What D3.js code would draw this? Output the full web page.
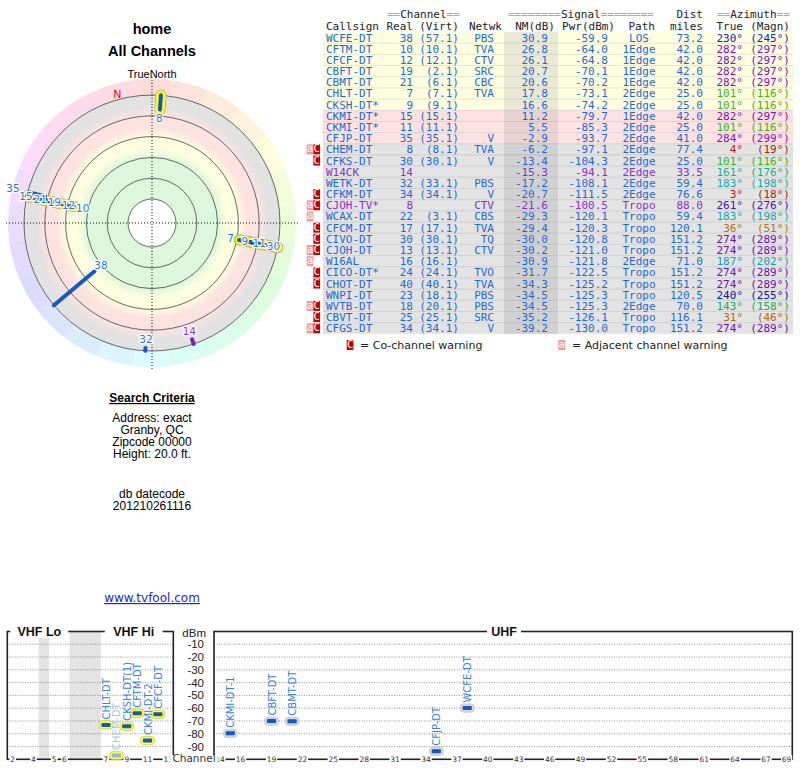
<!DOCTYPE html>
<html>
<head>
<meta charset="utf-8">
<title>home - All Channels</title>
<script src="https://d3js.org/d3.v7.min.js"></script>
<style>
  body { margin: 0; background: #fff; }
</style>
</head>
<body>
<script>
// station table
var callsign = ["WCFE-DT","CFTM-DT","CFCF-DT","CBFT-DT","CBMT-DT","CHLT-DT","CKSH-DT*","CKMI-DT*","CKMI-DT*","CFJP-DT","CHEM-DT","CFKS-DT","W14CK","WETK-DT","CFKM-DT","CJOH-TV*","WCAX-DT","CFCM-DT","CIVO-DT","CJOH-DT","W16AL","CICO-DT*","CHOT-DT","WNPI-DT","WVTB-DT","CBVT-DT","CFGS-DT"];
var realCh = [38,10,12,19,21,7,9,15,11,35,8,30,14,32,34,8,22,17,30,13,16,24,40,23,18,25,34];
var virtCh = ["57.1","10.1","12.1","2.1","6.1","7.1","9.1","15.1","11.1","35.1","8.1","30.1","","33.1","34.1","","3.1","17.1","30.1","13.1","16.1","24.1","40.1","18.1","20.1","25.1","34.1"];
var network = ["PBS","TVA","CTV","SRC","CBC","TVA","","","","V","TVA","V","","PBS","V","CTV","CBS","TVA","TQ","CTV","","TVO","TVA","PBS","PBS","SRC","V"];
var nmDb = [30.9,26.8,26.1,20.7,20.6,17.8,16.6,11.2,5.5,-2.9,-6.2,-13.4,-15.3,-17.2,-20.7,-21.6,-29.3,-29.4,-30.0,-30.2,-30.9,-31.7,-34.3,-34.5,-34.5,-35.2,-39.2];
var pwrDbm = [-59.9,-64.0,-64.8,-70.1,-70.2,-73.1,-74.2,-79.7,-85.3,-93.7,-97.1,-104.3,-94.1,-108.1,-111.5,-100.5,-120.1,-120.3,-120.8,-121.0,-121.8,-122.5,-125.2,-125.3,-125.3,-126.1,-130.0];
var pathType = ["LOS","1Edge","1Edge","1Edge","1Edge","2Edge","2Edge","1Edge","2Edge","2Edge","2Edge","2Edge","2Edge","2Edge","2Edge","Tropo","Tropo","Tropo","Tropo","Tropo","2Edge","Tropo","Tropo","Tropo","2Edge","Tropo","Tropo"];
var distMiles = [73.2,42.0,42.0,42.0,42.0,25.0,25.0,42.0,25.0,41.0,77.4,25.0,33.5,59.4,76.6,88.0,59.4,120.1,151.2,151.2,71.0,151.2,151.2,120.5,70.0,116.1,151.2];
var azTrue = [230,282,282,282,282,101,101,282,101,284,4,101,161,183,3,261,183,36,274,274,187,274,274,240,143,31,274];
var azMagn = [245,297,297,297,297,116,116,297,116,299,19,116,176,198,18,276,198,51,289,289,202,289,289,255,158,46,289];
var warning = ["","","","","","","","","","","aC","C","","","C","aC","a","C","C","aC","a","C","C","","aC","C","aC"];

// names used on the spectrum chart (first rows only)
var spectrumNames = ["WCFE-DT","CFTM-DT","CFCF-DT","CBFT-DT","CBMT-DT","CHLT-DT","CKSH-DT(1)","CKMI-DT-1","CKMI-DT-2","CFJP-DT","CHEM-DT"];

var searchLines = ["Address: exact","Granby, QC","Zipcode 00000","Height: 20.0 ft."];
var dateLines = ["db datecode","201210261116"];

var polarRings = [80,60,40,20,0,-20];       // NM dB circles
var bandEdges = [35,15,-5];                   // NM dB colour bands
var dbmTicks = [-10,-20,-30,-40,-50,-60,-70,-80,-90];
var vhfTicks = [2,4,5,6,7,9,11,13];
var uhfTicks = [14,16,19,22,25,28,31,34,37,40,43,46,49,52,55,58,61,64,67,69];
var vhfGaps = [[4.25,4.75],[6.125,6.875]];

var width = 800, height = 768;
var svg = d3.select("body").append("svg")
    .attr("width", width)
    .attr("height", height);

var sans = "'Liberation Sans', Arial, sans-serif";
var dejavu = "'DejaVu Sans', sans-serif";
var mono = "'DejaVu Sans Mono', monospace";
var blue = "#1f68d4";
var purple = "#8a2fcc";

function isAnalog(i) { return virtCh[i] === ""; }
function azColor(a) { return d3.hsl(a, 0.85, 0.38).toString(); }

// ---------- titles ----------
svg.append("text").attr("x",152).attr("y",34).attr("text-anchor","middle")
    .attr("font-family",sans).attr("font-size",14.5).attr("font-weight","bold").text("home");
svg.append("text").attr("x",152).attr("y",56).attr("text-anchor","middle")
    .attr("font-family",sans).attr("font-size",14.5).attr("font-weight","bold").text("All Channels");

// ---------- polar plot ----------
var cx = 152, cy = 223;
var rScale = d3.scaleLinear().domain([80,-20]).range([24,128]).clamp(true);
var rOuter = rScale(-20);
function rad(a) { return a * Math.PI / 180; }
function pt(az, r) { return [cx + r * Math.sin(rad(az)), cy - r * Math.cos(rad(az))]; }

var polar = svg.append("g");

// hue ring by azimuth
var hueArc = d3.arc().innerRadius(rOuter).outerRadius(rOuter + 16);
polar.selectAll("path.hue").data(d3.range(0,360,15)).join("path")
    .attr("class","hue")
    .attr("transform","translate(" + cx + "," + cy + ")")
    .attr("d", function(d){ return hueArc({startAngle: rad(d-7.5), endAngle: rad(d+7.5)}); })
    .attr("fill", function(d){ return d3.hsl(d, 0.9, 0.925).toString(); });

// signal bands
var bandColors = ["#dcf7dc","#fdfddf","#fde2e2","#e2e2e2"];
var grad = svg.append("defs").append("radialGradient").attr("id","bands")
    .attr("gradientUnits","userSpaceOnUse").attr("cx",cx).attr("cy",cy).attr("r",rOuter);
grad.append("stop").attr("offset",0).attr("stop-color",bandColors[0]);
bandEdges.forEach(function(e, k){
    var r = rScale(e);
    grad.append("stop").attr("offset",(r-5)/rOuter).attr("stop-color",bandColors[k]);
    grad.append("stop").attr("offset",(r+4)/rOuter).attr("stop-color",bandColors[k+1]);
});
grad.append("stop").attr("offset",1).attr("stop-color",bandColors[3]);
polar.append("circle").attr("cx",cx).attr("cy",cy).attr("r",rOuter).attr("fill","url(#bands)");

polar.selectAll("circle.ring").data(polarRings).join("circle")
    .attr("class","ring")
    .attr("cx",cx).attr("cy",cy)
    .attr("r", function(d){ return rScale(d); })
    .attr("fill", function(d,i){ return i === 0 ? "#fff" : "none"; })
    .attr("stroke","#444").attr("stroke-width",0.8);

// cross hair
polar.append("line").attr("x1",cx).attr("x2",cx).attr("y1",cy-146).attr("y2",cy+146)
    .attr("stroke","#111").attr("stroke-dasharray","1,2");
polar.append("line").attr("x1",cx-146).attr("x2",cx+146).attr("y1",cy).attr("y2",cy)
    .attr("stroke","#111").attr("stroke-dasharray","1,2");

svg.append("text").attr("x",cx).attr("y",78).attr("text-anchor","middle")
    .attr("font-family",sans).attr("font-size",11).text("TrueNorth");

// magnetic north marker
var decl = azMagn[0] - azTrue[0];
var np = pt(360 - decl, rOuter + 6);
polar.append("text").attr("x",np[0]).attr("y",np[1]+4).attr("text-anchor","middle")
    .attr("font-family",dejavu).attr("font-size",11).attr("fill","#d02020").text("N");

// stations on polar plot
var pIdx = d3.range(callsign.length).filter(function(i){ return nmDb[i] > -18; });

pIdx.filter(function(i){ return realCh[i] <= 13; }).forEach(function(i){
    var a = pt(azTrue[i], rScale(nmDb[i])), b = pt(azTrue[i], rOuter);
    polar.append("line").attr("x1",a[0]).attr("y1",a[1]).attr("x2",b[0]).attr("y2",b[1])
        .attr("stroke","#b5b55a").attr("stroke-width",11).attr("stroke-linecap","round");
    polar.append("line").attr("x1",a[0]).attr("y1",a[1]).attr("x2",b[0]).attr("y2",b[1])
        .attr("stroke","#ffff28").attr("stroke-width",9.5).attr("stroke-linecap","round");
});
pIdx.forEach(function(i){
    var a = pt(azTrue[i], rScale(nmDb[i])), b = pt(azTrue[i], rOuter);
    polar.append("line").attr("x1",a[0]).attr("y1",a[1]).attr("x2",b[0]).attr("y2",b[1])
        .attr("stroke", isAnalog(i) ? "#7a22c0" : "#1458c4")
        .attr("stroke-width",4).attr("stroke-linecap","round");
});

// labels, pushed outward when they collide on the same bearing
var order = pIdx.slice().sort(function(a,b){
    return d3.ascending(azTrue[a],azTrue[b]) || d3.descending(nmDb[a],nmDb[b]);
});
var prev = null;
order.forEach(function(i){
    var lr = rScale(nmDb[i]) - 8.5;
    if (prev && Math.abs(azTrue[i] - prev.az) <= 3) lr = Math.max(lr, prev.r + 14.5);
    prev = {az: azTrue[i], r: lr};
    var p = pt(azTrue[i], lr);
    polar.append("text").attr("x",p[0]).attr("y",p[1]+3.5).attr("text-anchor","middle")
        .attr("font-family",dejavu).attr("font-size",10.5)
        .attr("fill", isAnalog(i) ? purple : "#2a74dc")
        .attr("stroke","#fff").attr("stroke-width",2.5).attr("paint-order","stroke")
        .text(realCh[i]);
});

// ---------- search criteria ----------
svg.append("text").attr("x",152).attr("y",402).attr("text-anchor","middle")
    .attr("font-family",sans).attr("font-size",12).attr("font-weight","bold")
    .attr("text-decoration","underline").text("Search Criteria");
svg.selectAll("text.crit").data(searchLines).join("text").attr("class","crit")
    .attr("x",152).attr("y", function(d,i){ return 422 + i*12; })
    .attr("text-anchor","middle").attr("font-family",sans).attr("font-size",12).text(function(d){ return d; });
svg.selectAll("text.date").data(dateLines).join("text").attr("class","date")
    .attr("x",152).attr("y", function(d,i){ return 498 + i*12; })
    .attr("text-anchor","middle").attr("font-family",sans).attr("font-size",12).text(function(d){ return d; });
svg.append("text").attr("x",152).attr("y",602).attr("text-anchor","middle")
    .attr("font-family",dejavu).attr("font-size",12).attr("fill","#2424d8")
    .attr("text-decoration","underline").text("www.tvfool.com");

// ---------- table ----------
var rows = d3.range(callsign.length);
var rowY = d3.scaleBand().domain(rows).range([32, 32 + 11.18*rows.length]);
var tx0 = 323, tx1 = 793;
function rowFill(i) { return nmDb[i] >= 15 ? "#fefee0" : nmDb[i] >= -5 ? "#fde2e2" : "#e3e3e3"; }
function nmFill(i) { return nmDb[i] >= 15 ? "#e9e9d5" : nmDb[i] >= -5 ? "#e9d2d2" : "#d1d1d1"; }

var table = svg.append("g");
table.selectAll("rect.row").data(rows).join("rect").attr("class","row")
    .attr("x",tx0).attr("width",tx1-tx0).attr("y", function(i){ return rowY(i); })
    .attr("height", rowY.bandwidth()).attr("fill", rowFill);
table.selectAll("rect.nm").data(rows).join("rect").attr("class","nm")
    .attr("x",504).attr("width",54).attr("y", function(i){ return rowY(i); })
    .attr("height", rowY.bandwidth()).attr("fill", nmFill);
table.selectAll("line.sep").data(rows.slice(1)).join("line").attr("class","sep")
    .attr("x1",tx0).attr("x2",tx1)
    .attr("y1", function(i){ return rowY(i); }).attr("y2", function(i){ return rowY(i); })
    .attr("stroke","rgba(0,0,0,0.13)").attr("stroke-width",0.8);

var cols = [
    {x:326, anchor:"start", f:function(i){ return callsign[i]; }},
    {x:413, anchor:"end", f:function(i){ return realCh[i]; }},
    {x:459, anchor:"end", f:function(i){ return virtCh[i] ? "(" + virtCh[i] + ")" : ""; }},
    {x:494, anchor:"end", f:function(i){ return network[i]; }},
    {x:548, anchor:"end", f:function(i){ return nmDb[i].toFixed(1); }},
    {x:608, anchor:"end", f:function(i){ return pwrDbm[i].toFixed(1); }},
    {x:639, anchor:"middle", f:function(i){ return pathType[i]; }},
    {x:703, anchor:"end", f:function(i){ return distMiles[i].toFixed(1); }},
    {x:743, anchor:"end", az:true, f:function(i){ return azTrue[i] + "°"; }},
    {x:790, anchor:"end", az:true, f:function(i){ return "(" + azMagn[i] + "°)"; }}
];
cols.forEach(function(c){
    table.append("g").selectAll("text").data(rows).join("text")
        .attr("x",c.x).attr("y", function(i){ return rowY(i) + rowY.bandwidth()/2 + 4; })
        .attr("text-anchor",c.anchor).attr("font-family",mono).attr("font-size",11)
        .attr("fill", function(i){ return c.az ? azColor(azTrue[i]) : (isAnalog(i) ? purple : blue); })
        .text(c.f);
});

// warning boxes
rows.forEach(function(i){
    var w = warning[i];
    if (w.indexOf("a") >= 0) warnBox(306.7, rowY(i) + 0.6, "a");
    if (w.indexOf("C") >= 0) warnBox(313.4, rowY(i) + 0.6, "C");
});
function warnBox(x, y, t) {
    table.append("rect").attr("x",x).attr("y",y).attr("width",6.7).attr("height",10)
        .attr("fill", t === "C" ? "#c40000" : "#f29a9a");
    table.append("text").attr("x",x+3.35).attr("y",y+8).attr("text-anchor","middle")
        .attr("font-family",mono).attr("font-size",10.5).attr("fill","#fff").text(t);
}

// header
var hdr = table.append("g").attr("font-family",mono).attr("font-size",11).attr("fill","#222");
function hdrText(x, y, anchor, parts) {
    var t = hdr.append("text").attr("x",x).attr("y",y).attr("text-anchor",anchor);
    parts.forEach(function(p){ t.append("tspan").attr("fill", p[1] ? "#a8a8a8" : "#222").text(p[0]); });
}
hdrText(387, 18, "start", [["==",1],["Channel"],["==",1]]);
hdrText(508, 18, "start", [["========",1],["Signal"],["========",1]]);
hdrText(703, 18, "end", [["Dist"]]);
hdrText(717, 18, "start", [["==",1],["Azimuth"],["==",1]]);
[["Callsign",326,"start"],["Real",413,"end"],["(Virt)",459,"end"],["Netwk",502,"end"],
 ["NM(dB)",555,"end"],["Pwr(dBm)",615,"end"],["Path",655,"end"],["miles",703,"end"],
 ["True",743,"end"],["(Magn)",790,"end"]].forEach(function(h){
    hdrText(h[1], 29.5, h[2], [[h[0]]]);
});

// legend
warnBox(346.7, 340, "C");
svg.append("text").attr("x",360).attr("y",349).attr("font-family",dejavu).attr("font-size",11)
    .attr("fill","#222").text("= Co-channel warning");
warnBox(558.3, 340, "a");
svg.append("text").attr("x",572).attr("y",349).attr("font-family",dejavu).attr("font-size",11)
    .attr("fill","#222").text("= Adjacent channel warning");

// ---------- spectrum ----------
var yTop = 631.5, yBot = 759.3;
var y = d3.scaleLinear().domain([0,-100]).range([yTop,yBot]);
var vx = d3.scaleLinear().domain([2,4,5,6,7,13]).range([12.7,33.4,54.2,64.5,106,168.3]);
var ux = d3.scaleLinear().domain([14,69]).range([220,786.6]);
var spec = svg.append("g");

spec.selectAll("rect.gap").data(vhfGaps).join("rect").attr("class","gap")
    .attr("x", function(d){ return vx(d[0]); })
    .attr("width", function(d){ return vx(d[1]) - vx(d[0]); })
    .attr("y",yTop).attr("height",yBot-yTop).attr("fill","#e3e3e3");

[[7.3,173.3],[214,792.3]].forEach(function(b){
    spec.selectAll(null).data(dbmTicks).join("line")
        .attr("x1",b[0]).attr("x2",b[1])
        .attr("y1", function(d){ return y(d); }).attr("y2", function(d){ return y(d); })
        .attr("stroke","#777").attr("stroke-width",0.8).attr("stroke-dasharray","1,1.5");
    spec.append("rect").attr("x",b[0]).attr("y",yTop).attr("width",b[1]-b[0]).attr("height",yBot-yTop)
        .attr("fill","none").attr("stroke","#222").attr("stroke-width",1.6);
});

function bandTitle(x, t) {
    spec.append("rect").attr("x",x - t.length*4 - 5).attr("y",yTop-6).attr("width",t.length*8+10).attr("height",12).attr("fill","#fff");
    spec.append("text").attr("x",x).attr("y",yTop+4.5).attr("text-anchor","middle")
        .attr("font-family",sans).attr("font-size",12.5).attr("font-weight","bold").attr("fill","#111").text(t);
}
bandTitle(39.3, "VHF Lo");
bandTitle(133.7, "VHF Hi");
bandTitle(504, "UHF");

spec.append("text").attr("x",206).attr("y",yTop+5).attr("text-anchor","end")
    .attr("font-family",sans).attr("font-size",11.5).attr("fill","#222").text("dBm");
spec.selectAll("text.dbm").data(dbmTicks).join("text").attr("class","dbm")
    .attr("x",204).attr("y", function(d){ return y(d) + 4; }).attr("text-anchor","end")
    .attr("font-family",sans).attr("font-size",11.5).attr("fill","#222").text(function(d){ return d; });

function tickLabel(x, t, size) {
    var w = String(t).length * size * 0.62 + 2;
    spec.append("rect").attr("x",x-w/2).attr("y",yBot-4).attr("width",w).attr("height",8).attr("fill","#fff");
    spec.append("text").attr("x",x).attr("y",yBot+2.6).attr("text-anchor","middle")
        .attr("font-family",dejavu).attr("font-size",size).attr("fill","#333").text(t);
}
vhfTicks.forEach(function(c){ tickLabel(vx(c), c, 7.5); });
uhfTicks.forEach(function(c){ tickLabel(ux(c), c, 7.5); });
tickLabel(194, "Channel", 10.5);

// spectrum stations
spectrumNames.forEach(function(name, i){
    var vhf = realCh[i] <= 13;
    var x = vhf ? vx(realCh[i]) : ux(realCh[i]);
    var yy = y(pwrDbm[i]);
    var faint = nmDb[i] < -5;
    spec.append("rect").attr("x",x-7).attr("y",yy-4.2).attr("width",14).attr("height",8.4).attr("rx",3.5)
        .attr("fill", vhf ? "#ffff30" : "#d6d6d6").attr("stroke", vhf ? "#b8b860" : "#c0c0c0").attr("stroke-width",0.6);
    spec.append("rect").attr("x",x-4.6).attr("y",yy-2).attr("width",9.2).attr("height",4).attr("rx",1)
        .attr("fill", faint ? "#8fb6ee" : "#1458c4");
    spec.append("text").attr("transform","translate(" + (x+0.5) + "," + (yy-5.5) + ") rotate(-90)")
        .attr("dy","0.35em").attr("font-family",dejavu).attr("font-size",10)
        .attr("fill", faint ? "#a9c6f2" : "#3a80e0").text(name);
});
</script>
</body>
</html>
